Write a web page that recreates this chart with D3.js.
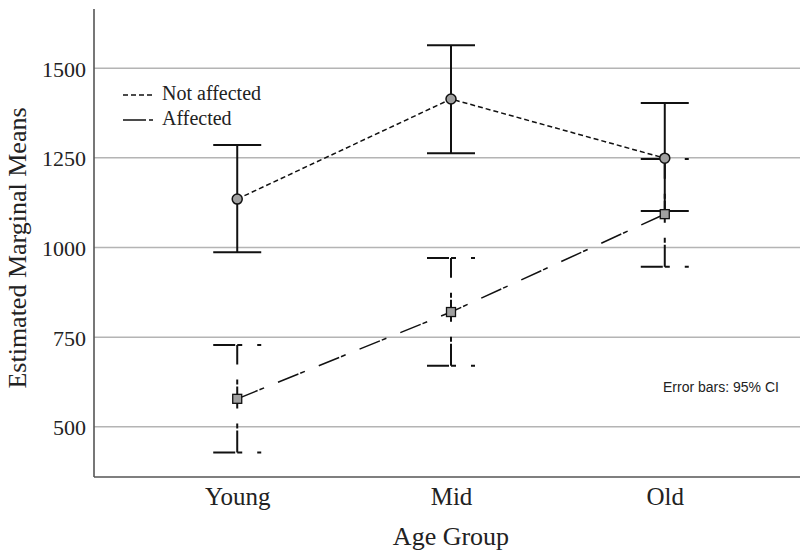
<!DOCTYPE html>
<html>
<head>
<meta charset="utf-8">
<script src="https://cdn.jsdelivr.net/npm/d3@7"></script>
<style>
  body { margin: 0; background: #fff; }
  text { font-family: "Liberation Serif", "Times New Roman", serif; fill: #222; }
</style>
</head>
<body>
<script>
// datos
var grupos = ["Young", "Mid", "Old"]

var noAfectadoMedia = [1135, 1414, 1249]
var noAfectadoBajo = [987, 1263, 1102]
var noAfectadoAlto = [1286, 1564, 1403]

var afectadoMedia = [578, 820, 1093]
var afectadoBajo = [428, 670, 946]
var afectadoAlto = [728, 971, 1247]

var ticksY = [500, 750, 1000, 1250, 1500]

var width = 800
var height = 550
var margin = { top: 9, bottom: 73, left: 94, right: -8 }

var svg = d3.select("body")
  .append("svg")
  .attr("width", width)
  .attr("height", height)

var escalaX = d3.scalePoint()
  .domain(grupos)
  .range([margin.left, width - margin.right])
  .padding(0.67)

var escalaY = d3.scaleLinear()
  .domain([360, 1665])
  .range([height - margin.bottom, margin.top])

// lineas de grid
svg.append("g")
  .selectAll("line")
  .data(ticksY)
  .enter()
  .append("line")
  .attr("x1", margin.left)
  .attr("x2", width)
  .attr("y1", d => escalaY(d))
  .attr("y2", d => escalaY(d))
  .attr("stroke", "#b4b4b4")
  .attr("stroke-width", 1.5)

// eje Y
var ejeY = d3.axisLeft(escalaY)
  .tickValues(ticksY)
  .tickFormat(d3.format("d"))
  .tickSize(0)
  .tickPadding(8)
var gY = svg.append("g")
  .attr("transform", "translate(" + margin.left + ",0)")
  .call(ejeY)
gY.select(".domain").remove()
gY.selectAll("text")
  .style("font-family", "'Liberation Serif', serif")
  .attr("font-size", 22)
  .style("fill", "#222")
  .attr("dy", "0.36em")

// eje X
var ejeX = d3.axisBottom(escalaX).tickSize(0).tickPadding(28)
var gX = svg.append("g")
  .attr("transform", "translate(0," + (height - margin.bottom) + ")")
  .call(ejeX)
gX.select(".domain").remove()
gX.selectAll("text")
  .style("font-family", "'Liberation Serif', serif")
  .attr("font-size", 25)
  .style("fill", "#222")
  .attr("dy", 0)

// lineas de los ejes
svg.append("line")
  .attr("x1", margin.left).attr("x2", margin.left)
  .attr("y1", margin.top).attr("y2", height - margin.bottom)
  .attr("stroke", "#555").attr("stroke-width", 1.6)
svg.append("line")
  .attr("x1", margin.left).attr("x2", width)
  .attr("y1", height - margin.bottom).attr("y2", height - margin.bottom)
  .attr("stroke", "#555").attr("stroke-width", 1.6)

// titulos
svg.append("text")
  .attr("x", escalaX("Mid"))
  .attr("y", 545)
  .attr("text-anchor", "middle")
  .attr("font-size", 26)
  .text("Age Group")

svg.append("text")
  .attr("transform", "translate(26," + ((margin.top + height - margin.bottom) / 2 + 5) + ") rotate(-90)")
  .attr("text-anchor", "middle")
  .attr("font-size", 26)
  .text("Estimated Marginal Means")

var rayaPunto = "22,2,5,15"
var mitadCap = 24

function series(media, bajo, alto) {
  return grupos.map((g, i) => ({ g: g, m: media[i], lo: bajo[i], hi: alto[i] }))
}
var datosNA = series(noAfectadoMedia, noAfectadoBajo, noAfectadoAlto)
var datosA = series(afectadoMedia, afectadoBajo, afectadoAlto)

var linea = d3.line().x(d => escalaX(d.g)).y(d => escalaY(d.m))

// lineas que unen medias
svg.append("path")
  .datum(datosA)
  .attr("d", linea)
  .attr("fill", "none")
  .attr("stroke", "#111")
  .attr("stroke-width", 1.5)
  .attr("stroke-dasharray", rayaPunto)

svg.append("path")
  .datum(datosNA)
  .attr("d", linea)
  .attr("fill", "none")
  .attr("stroke", "#111")
  .attr("stroke-width", 1.5)
  .attr("stroke-dasharray", "5,3")

// barras de error
function pintarBarras(datos, dash) {
  var g = svg.append("g")
    .attr("stroke", "#111")
    .attr("stroke-width", 2)
    .attr("fill", "none")
  // vertical (de abajo hacia arriba)
  g.selectAll(".v").data(datos).enter().append("path")
    .attr("d", d => "M" + escalaX(d.g) + "," + escalaY(d.lo) + "V" + escalaY(d.hi))
    .attr("stroke-dasharray", dash)
  // caps
  g.selectAll(".cap").data(datos.flatMap(d => [{ g: d.g, v: d.hi }, { g: d.g, v: d.lo }])).enter().append("path")
    .attr("d", d => "M" + (escalaX(d.g) - mitadCap) + "," + escalaY(d.v) + "H" + (escalaX(d.g) + mitadCap))
    .attr("stroke-dasharray", dash)
}
pintarBarras(datosNA, null)
pintarBarras(datosA, rayaPunto)

// marcadores
svg.append("g").selectAll("circle")
  .data(datosNA)
  .enter()
  .append("circle")
  .attr("cx", d => escalaX(d.g))
  .attr("cy", d => escalaY(d.m))
  .attr("r", 5)
  .attr("fill", "#a0a0a0")
  .attr("stroke", "#111")
  .attr("stroke-width", 1.5)

svg.append("g").selectAll("rect")
  .data(datosA)
  .enter()
  .append("rect")
  .attr("x", d => escalaX(d.g) - 4.5)
  .attr("y", d => escalaY(d.m) - 4.5)
  .attr("width", 9)
  .attr("height", 9)
  .attr("fill", "#a0a0a0")
  .attr("stroke", "#111")
  .attr("stroke-width", 1.3)

// leyenda
var leyenda = [
  { nombre: "Not affected", dash: "5,3", y: 95 },
  { nombre: "Affected", dash: "23,3,4,15", y: 120 }
]
var gLey = svg.append("g")
gLey.selectAll("line").data(leyenda).enter().append("line")
  .attr("x1", 123).attr("x2", 154)
  .attr("y1", d => d.y).attr("y2", d => d.y)
  .attr("stroke", "#111").attr("stroke-width", 1.5)
  .attr("stroke-dasharray", d => d.dash)
gLey.selectAll("text").data(leyenda).enter().append("text")
  .attr("x", 162)
  .attr("y", d => d.y + 5)
  .attr("font-size", 20)
  .text(d => d.nombre)

svg.append("text")
  .attr("x", 663)
  .attr("y", 392)
  .style("font-family", "'Liberation Sans', Arial, sans-serif")
  .attr("font-size", 14)
  .text("Error bars: 95% CI")
</script>
</body>
</html>
